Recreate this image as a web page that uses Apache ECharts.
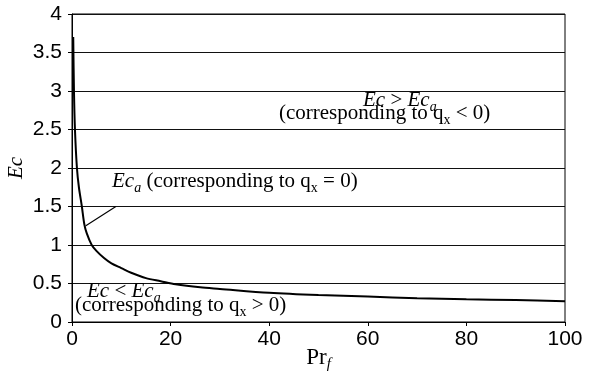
<!DOCTYPE html>
<html>
<head>
<meta charset="utf-8">
<script src="https://cdn.jsdelivr.net/npm/echarts@6/dist/echarts.min.js"></script>
<style>
  html, body { margin: 0; padding: 0; background: #fff; }
  #chart { width: 589px; height: 380px; }
</style>
</head>
<body>
<div id="chart"></div>
<script>
// Critical Eckert number Ec_a as a function of the Prandtl number Pr_f
const prandtl = [0.25, 0.4, 0.6, 1.0, 1.4, 2.0, 2.5, 3.0, 4.0, 5.0, 6.5, 8, 10, 12, 15, 18, 21, 26, 30, 40, 50, 60, 70, 80, 90, 100];
const ecCritical = [3.7, 3.0, 2.5, 2.0, 1.75, 1.5, 1.27, 1.15, 1.0, 0.92, 0.83, 0.76, 0.70, 0.64, 0.57, 0.53, 0.49, 0.45, 0.43, 0.38, 0.35, 0.33, 0.31, 0.295, 0.285, 0.27];

const xTicks = [0, 20, 40, 60, 80, 100];
const yTicks = [0, 0.5, 1, 1.5, 2, 2.5, 3, 3.5, 4];

const SERIF = '"Liberation Serif", "Times New Roman", serif';
const SANS = '"Liberation Sans", Arial, sans-serif';

// rich-text styles for the annotations (main text, italic, subscripts)
const annRich = {
  m:  { fontFamily: SERIF, fontSize: 21, lineHeight: 24, verticalAlign: 'top', fill: '#000' },
  i:  { fontFamily: SERIF, fontSize: 21, lineHeight: 24, verticalAlign: 'top', fontStyle: 'italic', fill: '#000' },
  s:  { fontFamily: SERIF, fontSize: 14, lineHeight: 10, verticalAlign: 'bottom', fill: '#000' },
  si: { fontFamily: SERIF, fontSize: 14, lineHeight: 10, verticalAlign: 'bottom', fontStyle: 'italic', fill: '#000' }
};

function annotation(text, left, baseline) {
  return {
    type: 'text',
    x: left,
    y: baseline - 18,
    z: 10,
    style: { text: text, rich: annRich, align: 'left', verticalAlign: 'top' }
  };
}

const chart = echarts.init(document.getElementById('chart'), null, { renderer: 'canvas' });

chart.setOption({
  animation: false,
  backgroundColor: '#fff',
  grid: {
    left: 72, right: 24, top: 14, bottom: 58,
    containLabel: false,
    outerBoundsMode: 'none',
    show: true, borderColor: '#000', borderWidth: 1, backgroundColor: 'transparent'
  },
  xAxis: {
    type: 'value',
    min: xTicks[0], max: xTicks[xTicks.length - 1], interval: 20,
    name: '{m|Pr}{s|f}',
    nameLocation: 'middle',
    nameGap: 24,
    nameMoveOverlap: false,
    nameTextStyle: {
      rich: {
        m: { fontFamily: SERIF, fontSize: 23, lineHeight: 26, verticalAlign: 'top', color: '#000' },
        s: { fontFamily: SERIF, fontSize: 15, lineHeight: 10, verticalAlign: 'bottom', fontStyle: 'italic', color: '#000' }
      }
    },
    axisLine: { show: true, onZero: false, lineStyle: { color: '#000', width: 1 } },
    axisTick: { show: true, inside: false, length: 4, lineStyle: { color: '#000' } },
    axisLabel: { margin: 7, color: '#000', fontFamily: SANS, fontSize: 21 },
    splitLine: { show: false }
  },
  yAxis: {
    type: 'value',
    min: yTicks[0], max: yTicks[yTicks.length - 1], interval: 0.5,
    name: 'Ec',
    nameLocation: 'middle',
    nameGap: 45,
    nameMoveOverlap: false,
    nameTextStyle: { fontFamily: SERIF, fontSize: 21, fontStyle: 'italic', color: '#000' },
    axisLine: { show: true, lineStyle: { color: '#000', width: 1 } },
    axisTick: { show: true, inside: false, length: 4, lineStyle: { color: '#000' } },
    axisLabel: { margin: 10, color: '#000', fontFamily: SANS, fontSize: 21 },
    splitLine: { show: true, lineStyle: { color: '#111', width: 1 } }
  },
  series: [{
    type: 'line',
    data: prandtl.map((p, k) => [p, ecCritical[k]]),
    showSymbol: false,
    smooth: 0.3,
    lineStyle: { color: '#000', width: 2 },
    z: 5
  }]
});

// leader from the curve to its label, anchored in data space
const from = chart.convertToPixel({ gridIndex: 0 }, [2.8, 1.25]);
const to = chart.convertToPixel({ gridIndex: 0 }, [8.9, 1.5]);

chart.setOption({
  graphic: [
    annotation('{i|Ec}{m| > }{i|Ec}{si|a}', 363, 108),
    annotation('{m|(corresponding to q}{s|x}{m| < 0)}', 279, 121),
    annotation('{i|Ec}{si|a}{m| (corresponding to q}{s|x}{m| = 0)}', 112, 189),
    annotation('{i|Ec}{m| < }{i|Ec}{si|a}', 87, 299),
    annotation('{m|(corresponding to q}{s|x}{m| > 0)}', 75, 313),
    {
      type: 'line',
      z: 10,
      shape: { x1: from[0], y1: from[1], x2: to[0], y2: to[1] },
      style: { stroke: '#000', lineWidth: 1.2 }
    }
  ]
});
</script>
</body>
</html>
